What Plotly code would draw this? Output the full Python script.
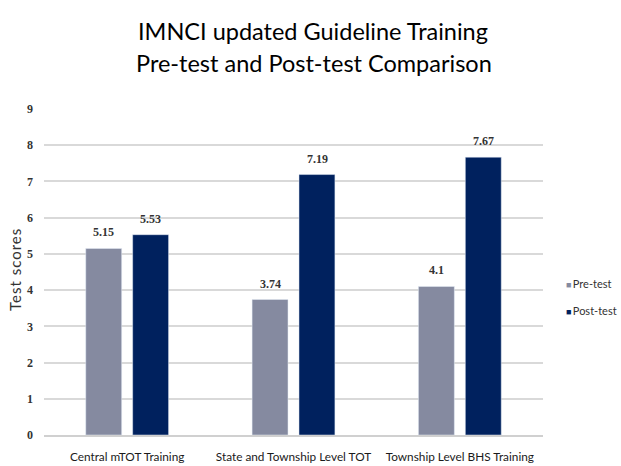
import plotly.graph_objects as go

categories = ["Central mTOT Training", "State and Township Level TOT", "Township Level BHS Training"]
pre_test = [5.15, 3.74, 4.1]
post_test = [5.53, 7.19, 7.67]
pre_labels = ["5.15", "3.74", "4.1"]
post_labels = ["5.53", "7.19", "7.67"]
y_ticks = [0, 1, 2, 3, 4, 5, 6, 7, 8, 9]
series_names = ["Pre-test", "Post-test"]
series_colors = ["#858aa0", "#00215e"]

W, H = 621, 466
ML, MR, MT, MB = 44, 78, 109, 31
PW, PH = W - ML - MR, H - MT - MB


def px_x(px):
    return (px - ML) / PW


def px_y(py):
    return (H - MB - py) / PH


fig = go.Figure()
fig.add_trace(go.Bar(name=series_names[0], x=categories, y=pre_test, marker_color=series_colors[0], showlegend=False))
fig.add_trace(go.Bar(name=series_names[1], x=categories, y=post_test, marker_color=series_colors[1], showlegend=False))

label_font = dict(family="Liberation Serif", size=12, color="#333333", weight="bold")
for cat, v, t in zip(categories, pre_test, pre_labels):
    fig.add_annotation(x=cat, y=v, text=t, showarrow=False, xshift=-23.5, yshift=16,
                       yanchor="middle", font=label_font)
for cat, v, t in zip(categories, post_test, post_labels):
    fig.add_annotation(x=cat, y=v, text=t, showarrow=False, xshift=23.5, yshift=16,
                       yanchor="middle", font=label_font)

title_font = dict(family="Lato", size=23.5, color="#000000")
fig.add_annotation(text="IMNCI updated Guideline Training", xref="paper", yref="paper",
                   x=px_x(313), y=px_y(31), xanchor="center", yanchor="middle", showarrow=False,
                   font=title_font)
fig.add_annotation(text="Pre-test and Post-test Comparison", xref="paper", yref="paper",
                   x=px_x(314), y=px_y(63), xanchor="center", yanchor="middle", showarrow=False,
                   font=title_font)

# y-axis title
fig.add_annotation(text="<span style='letter-spacing:1px'>Test scores</span>", xref="paper", yref="paper",
                   x=px_x(15), y=px_y(270), xanchor="center", yanchor="middle", textangle=-90,
                   showarrow=False, font=dict(family="Lato", size=15, color="#333333"))

# manual legend (small square markers)
for i, (name, col) in enumerate(zip(series_names, series_colors)):
    fig.add_annotation(text=f"<span style='color:{col};font-size:9px'>■</span>\u2009{name}",
                       xref="paper", yref="paper",
                       x=px_x(564), y=px_y(283 + 27 * i), xanchor="left", yanchor="middle",
                       showarrow=False, font=dict(family="Lato", size=11, color="#333333"))

fig.update_layout(
    width=W, height=H,
    margin=dict(l=ML, r=MR, t=MT, b=MB, autoexpand=False),
    paper_bgcolor="white", plot_bgcolor="white",
    barmode="group", bargap=0.436, bargroupgap=0.234,
    showlegend=False,
    font=dict(family="Lato"),
)
fig.update_xaxes(showgrid=False, showline=True, linecolor="#d0d0d0", linewidth=2,
                 tickfont=dict(family="Lato", size=11.8, color="#1a1a1a"), ticks="",
                 ticklabelstandoff=10, automargin=False)
fig.update_yaxes(range=[0, 9], tickvals=y_ticks, showgrid=True, gridcolor="#d9d9d9", gridwidth=1.5,
                 zeroline=False, ticks="", ticklabelstandoff=10, automargin=False,
                 tickfont=dict(family="Liberation Serif", size=12, color="#333333", weight="bold"))

fig.write_html("out.html", config={"displayModeBar": False},
               post_script="document.body.style.margin='0';document.body.style.overflow='hidden';")
